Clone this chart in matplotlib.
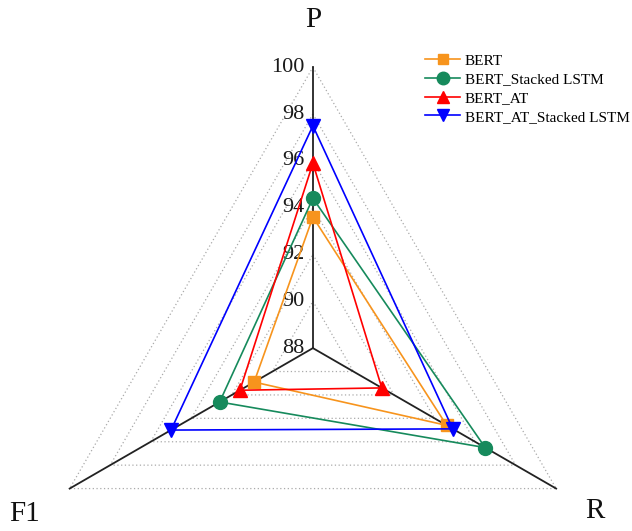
import numpy as np
import matplotlib
matplotlib.use("Agg")
import matplotlib.pyplot as plt

plt.rcParams['font.family'] = ['Liberation Serif', 'DejaVu Serif']

# metric order around the chart: P (top), R (bottom right), F1 (bottom left)
metrics = ['P', 'R', 'F1']
models = ['BERT', 'BERT_Stacked LSTM', 'BERT_AT', 'BERT_AT_Stacked LSTM']

bert = [93.6, 94.6, 90.9]
bert_stacked = [94.4, 96.5, 92.6]
bert_at = [95.9, 91.4, 91.6]
bert_at_stacked = [97.5, 94.9, 95.0]

ticks = [88, 90, 92, 94, 96, 98, 100]

colors = ['#F7941D', '#168A5C', '#FF0000', '#0000FF']
markers = ['s', 'o', '^', 'v']
msizes = [8, 10, 10, 10]

fig = plt.figure(figsize=(6.32, 5.31), dpi=100)
ax = fig.add_axes([0.0506, -0.1846, 0.889, 1.058], projection='polar')
ax.set_theta_zero_location('N')
ax.set_theta_direction(-1)
ax.set_ylim(ticks[0], ticks[-1])
ax.grid(False)
ax.set_xticks([])
ax.set_yticks([])
ax.spines['polar'].set_visible(False)
ax.patch.set_alpha(0)

angles = np.arange(len(metrics)) * 2 * np.pi / len(metrics)
closed = np.append(angles, angles[0])

# dotted triangular grid
for t in ticks[1:]:
    ax.plot(closed, [t] * len(closed), color='#AAAAAA', lw=0.9,
            ls=(0, (1, 2)), zorder=1, clip_on=False)

# spokes
for a in angles:
    ax.plot([a, a], [ticks[0], ticks[-1]], color='#222222', lw=1.3,
            zorder=2, clip_on=False)

# tick labels along P axis
for t in ticks:
    ax.annotate(str(t), xy=(0, t), xytext=(-6, 0), textcoords='offset points',
                ha='right', va='center', fontsize=16, color='#1A1A1A')

# axis names
name_r = [102.0, 101.9, 102.2]
for a, name, r in zip(angles, metrics, name_r):
    ax.text(a, r, name, ha='center', va='center', fontsize=21, color='#111111')

series = [bert, bert_stacked, bert_at, bert_at_stacked]
for vals, lab, c, m, ms in zip(series, models, colors, markers, msizes):
    v = np.append(vals, vals[0])
    ax.plot(closed, v, color=c, lw=1.2, marker=m, markersize=ms,
            markevery=[0, 1, 2], label=lab, zorder=3, clip_on=False)

leg = fig.legend(loc='upper left', bbox_to_anchor=(0.663, 0.91),
                 frameon=False, fontsize=11, handlelength=2.3,
                 handletextpad=0.3, labelspacing=0.33, borderaxespad=0,
                 markerscale=0.9)

fig.savefig('out.png', dpi=100)
